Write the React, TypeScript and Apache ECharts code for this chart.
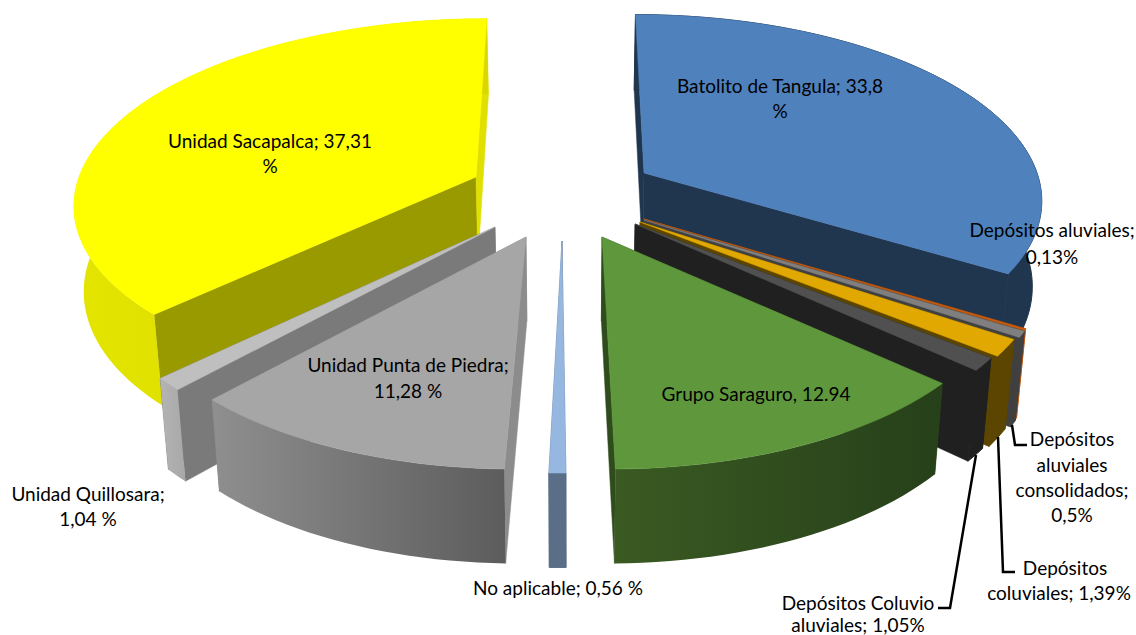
import React, { useEffect, useRef } from "react";
import * as echarts from "echarts";

const sliceNames = [
  "Batolito de Tangula",
  "Depósitos aluviales",
  "Depósitos aluviales consolidados",
  "Depósitos coluviales",
  "Depósitos Coluvio aluviales",
  "Grupo Saraguro",
  "No aplicable",
  "Unidad Punta de Piedra",
  "Unidad Quillosara",
  "Unidad Sacapalca",
];
const sliceValues = [33.8, 0.13, 0.5, 1.39, 1.05, 12.94, 0.56, 11.28, 1.04, 37.31];

// Where each exploded slice's tip lands on the page, and its projection
const tipX = [644, 644, 644, 640, 635, 602, 562, 526, 495, 476];
const tipY = [173, 219, 220, 222, 224, 237, 241, 237, 227, 177];
const persp = [0.13, 0.19, 0.19, 0.19, 0.19, 0.19, 0.19, 0.19, 0.19, 0.13];
const radY = [179, 188, 188, 188, 188, 188, 188, 188, 188, 179];
const radX = [393, 395, 395, 394, 393, 398, 392, 394, 392, 397];
const VANISH_X = 570;
const THICK = 84;
const THICK_P = 0.11;
const BOTTOM_SHRINK = 0.98;

const topColors = ["#4F81BD", "#C55A11", "#7F7F7F", "#E0A800", "#505050", "#5F983C", "#95B7E0", "#A6A6A6", "#BFBFBF", "#FFFF00"];
const startCutColors = ["#20364E", "#8A4510", "#404040", "#5C4500", "#202020", "#2F4D1C", "#5A6E88", "#8C8C8C", "#7A7A7A", "#999900"];
const endCutColors = ["#20364E", "#8A4510", "#404040", "#5C4500", "#202020", "#2F4D1C", "#5A6E88", "#8C8C8C", "#7A7A7A", "#E0E000"];
const wallLeft = ["#20364E", "#C55A11", "#404040", "#5C4500", "#202020", "#3A5A22", "#5A6E88", "#8F8F8F", "#B4B4B4", "#E4E400"];
const wallRight = ["#20364E", "#C55A11", "#404040", "#5C4500", "#202020", "#26401A", "#5A6E88", "#5C5C5C", "#A8A8A8", "#D8D800"];
const drawOrder = [9, 0, 1, 2, 3, 4, 8, 7, 6, 5];

const labelLines: [string, number, number][] = [
  ["Batolito de Tangula; 33,8", 780, 85],
  ["%", 780, 110],
  ["Unidad Sacapalca; 37,31", 270, 140],
  ["%", 270, 165],
  ["Depósitos aluviales;", 1052, 229],
  ["0,13%", 1052, 256],
  ["Unidad Punta de Piedra;", 408, 364],
  ["11,28 %", 408, 390],
  ["Grupo Saraguro, 12.94", 756, 393],
  ["Unidad Quillosara;", 88, 493],
  ["1,04 %", 88, 518],
  ["No aplicable; 0,56 %", 558, 587],
  ["Depósitos", 1072, 438],
  ["aluviales", 1072, 464],
  ["consolidados;", 1072, 489],
  ["0,5%", 1072, 514],
  ["Depósitos", 1065, 567],
  ["coluviales; 1,39%", 1059, 592],
  ["Depósitos Coluvio", 858, 602],
  ["aluviales; 1,05%", 858, 624],
];
const leaderLines: [number, number][][] = [
  [[1012, 425], [1015, 445], [1027, 445]],
  [[998, 437], [1003, 572], [1015, 572]],
  [[976, 455], [950, 608], [938, 608]],
];

function topPoint(i: number, theta: number): [number, number] {
  const u = Math.sin(theta);
  const v = -Math.cos(theta);
  const s = 1 / (1 - persp[i] * v);
  return [VANISH_X + (tipX[i] - VANISH_X + radX[i] * u) * s, tipY[i] + radY[i] * v * s];
}
function bottomOf(p: [number, number], v: number): [number, number] {
  return [VANISH_X + (p[0] - VANISH_X) * BOTTOM_SHRINK, p[1] + THICK / (1 - THICK_P * v)];
}

function renderSlice(params: any, api: any) {
  const i = api.value(2) as number;
  const a0 = ((api.value(0) as number) / 100) * 2 * Math.PI;
  const a1 = a0 + ((api.value(1) as number) / 100) * 2 * Math.PI;
  const steps = Math.max(2, Math.ceil((a1 - a0) / 0.03));
  const arc: [number, number][] = [];
  const base: [number, number][] = [];
  for (let k = 0; k <= steps; k++) {
    const t = a0 + ((a1 - a0) * k) / steps;
    const p = topPoint(i, t);
    arc.push(p);
    base.push(bottomOf(p, -Math.cos(t)));
  }
  const tip: [number, number] = [tipX[i], tipY[i]];
  const tipBase = bottomOf(tip, 0);
  const cut = (p: [number, number], q: [number, number], color: string) => ({
    type: "polygon",
    shape: { points: [tip, p, q, tipBase] },
    style: { fill: color, stroke: color, lineWidth: 0.5 },
  });
  const flatWall = wallLeft[i] === wallRight[i];
  return {
    type: "group",
    children: [
      cut(arc[0], base[0], startCutColors[i]),
      cut(arc[steps], base[steps], endCutColors[i]),
      {
        type: "polygon",
        shape: { points: [...arc, ...base.slice().reverse()] },
        style: flatWall
          ? { fill: wallLeft[i], stroke: wallLeft[i], lineWidth: 1 }
          : {
              fill: new echarts.graphic.LinearGradient(0, 0, 1, 0, [
                { offset: 0, color: wallLeft[i] },
                { offset: 1, color: wallRight[i] },
              ]),
            },
      },
      {
        type: "polygon",
        shape: { points: [tip, ...arc] },
        style: { fill: topColors[i], stroke: topColors[i], lineWidth: 0.5 },
      },
    ],
  };
}

export default function App() {
  const ref = useRef<HTMLDivElement>(null);
  useEffect(() => {
    if (!ref.current) return;
    const chart = echarts.init(ref.current, undefined, { renderer: "svg" });
    const starts: number[] = [];
    sliceValues.reduce((acc, v, i) => {
      starts[i] = acc;
      return acc + v;
    }, 0);
    const data = drawOrder.map((i) => ({ name: sliceNames[i], value: [starts[i], sliceValues[i], i] }));
    chart.setOption({
      animation: false,
      backgroundColor: "#FFFFFF",
      series: [
        {
          type: "custom",
          coordinateSystem: "none",
          renderItem: renderSlice,
          data,
          silent: true,
          clip: false,
        },
      ],
      graphic: [
        ...leaderLines.map((pts) => ({
          type: "polyline",
          z: 50,
          shape: { points: pts },
          style: { stroke: "#000000", lineWidth: 2.5, fill: "none" },
        })),
        ...labelLines.map(([text, x, y]) => ({
          type: "text",
          z: 60,
          x,
          y,
          style: {
            text,
            fill: "#000000",
            font: '19px Lato, "Noto Sans", sans-serif',
            textAlign: "center",
            textVerticalAlign: "middle",
          },
        })),
      ],
    });
    return () => chart.dispose();
  }, []);
  return <div ref={ref} style={{ position: "fixed", left: 0, top: 0, width: 1136, height: 635 }} />;
}
